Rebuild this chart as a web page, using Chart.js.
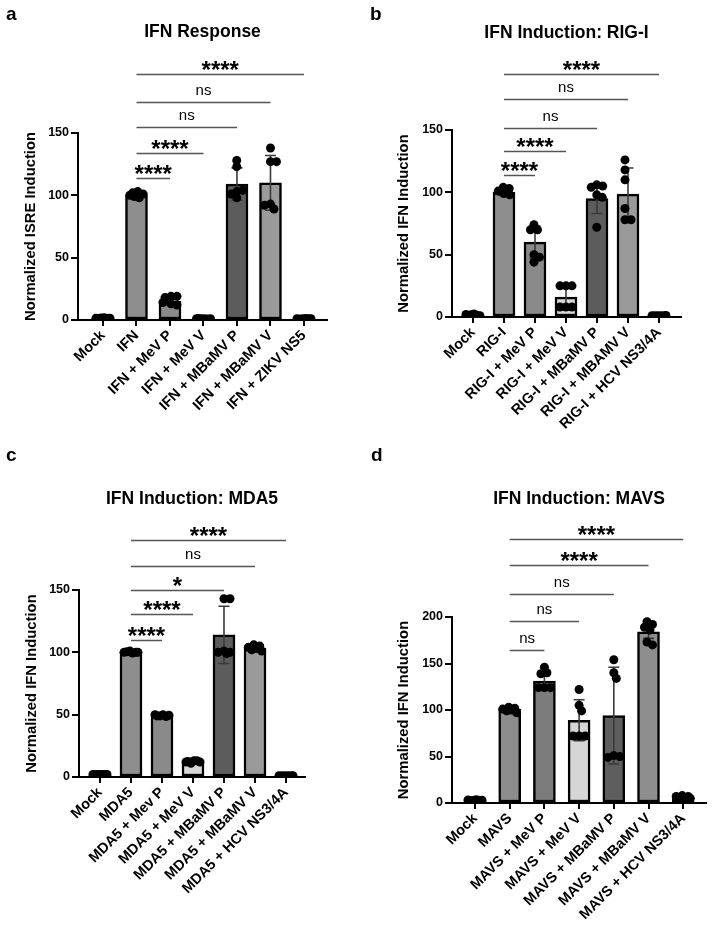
<!DOCTYPE html>
<html><head><meta charset="utf-8">
<script src="https://cdn.jsdelivr.net/npm/chart.js@4.4.0/dist/chart.umd.min.js"></script>
<style>
html,body{margin:0;padding:0;background:#fff;}
#wrap{position:relative;width:713px;height:926px;overflow:hidden;font-family:"Liberation Sans",Arial,sans-serif;}
canvas{position:absolute;}
.lt{position:absolute;font-weight:bold;font-size:19px;line-height:19px;color:#000;}
</style></head><body>
<div id="wrap">
<canvas id="ca" width="356" height="450" style="left:0;top:0"></canvas>
<canvas id="cb" width="357" height="450" style="left:356px;top:0"></canvas>
<canvas id="cc" width="356" height="476" style="left:0;top:450px"></canvas>
<canvas id="cd" width="357" height="476" style="left:356px;top:450px"></canvas>
<div class="lt" style="left:6px;top:4px">a</div>
<div class="lt" style="left:370px;top:4px">b</div>
<div class="lt" style="left:6px;top:445px">c</div>
<div class="lt" style="left:371px;top:445px">d</div>
</div>
<script>
// ---------- Panel a: IFN Response ----------
const catsA = ['Mock','IFN','IFN + MeV P','IFN + MeV V','IFN + MBaMV P','IFN + MBaMV V','IFN + ZIKV NS5'];
const meanA = [1.5, 100, 15, 1, 109, 110, 1];
const sdA   = [0.3, 1.8, 2.8, 0.2, 13, 22, 0.2];
const ptsA  = [
  [1.8,1.5,1.2,1.6,1.4,1.5],
  [103,101,99,100,98,102],
  [19,19,18,13,12,14],
  [1,1,1.2,0.8,1,1],
  [128,123,103,104,98,101],
  [138,127,127,93,89,92],
  [1,1,1,1.2,0.8,1]
];
const brToA = [2,3,4,5,6];
const brYA  = [114,134,155,175,197];
const brLbA = ['****','****','ns','ns','****'];

// ---------- Panel b: IFN Induction: RIG-I ----------
const catsB = ['Mock','RIG-I','RIG-I + MeV P','RIG-I + MeV V','RIG-I + MBaMV P','RIG-I + MBAMV V','RIG-I + HCV NS3/4A'];
const meanB = [1.5, 100, 60, 16, 95, 98.5, 1];
const sdB   = [1, 2.5, 13, 9, 12, 21, 0.3];
const ptsB  = [
  [2.5,1,0.5,2,1.5,1.8],
  [104,103,101,99,98,100],
  [74,70,70,50,48,44],
  [25,25,25,8,8,8],
  [106,105,104,98,96,72],
  [126,118,110,87,78,78],
  [1,1,1,1,1,1.3]
];
const brToB = [2,3,4,5,6];
const brYB  = [114,133,152,175,195];
const brLbB = ['****','****','ns','ns','****'];

// ---------- Panel c: IFN Induction: MDA5 ----------
const catsC = ['Mock','MDA5','MDA5 + Mev P','MDA5 + MeV V','MDA5 + MBaMV P','MDA5 + MBaMV V','MDA5 + HCV NS3/4A'];
const meanC = [2, 100, 49, 12, 114, 103.5, 1];
const sdC   = [0.3, 0.8, 1.2, 1.2, 23, 2, 0.2];
const ptsC  = [
  [2,2,2,2,2,2],
  [101,100,100,99.5,100.5,100],
  [50,49.5,49,48.5,49,50],
  [13,12,12.5,11,13,12],
  [143,143,101,100,100,99],
  [106,105,104,103,102,101],
  [1,1,1,1,1,1]
];
const brToC = [2,3,4,5,6];
const brYC  = [110,131,150,169,190];
const brLbC = ['****','****','*','ns','****'];

// ---------- Panel d: IFN Induction: MAVS ----------
const catsD = ['Mock','MAVS','MAVS + MeV P','MAVS + MeV V','MAVS + MBaMV P','MAVS + MBaMV V','MAVS + HCV NS3/4A'];
const meanD = [3, 101, 131, 89, 94, 184, 6];
const sdD   = [0.5, 2.5, 6, 22, 52, 7, 1.5];
const ptsD  = [
  [3.5,3,2.5,2.8,3,3.2],
  [103,102,101,100,99,97],
  [146,140,139,124,124,124],
  [122,105,99,72,72,72],
  [154,140,134,51,50,49],
  [195,192,189,186,173,170],
  [8,7,7,6,5,5]
];
const brToD = [2,3,4,5,6];
const brYD  = [164.5,195.7,224.7,256,284];
const brLbD = ['ns','ns','ns','****','****'];

const barColors = ['#ffffff','#8e8e8e','#8a8a8a','#d8d8d8','#5c5c5c','#9a9a9a','#d8d8d8'];
const barColorsD = ['#ffffff','#8c8c8c','#7c7c7c','#d6d6d6','#5e5e5e','#8e8e8e','#d8d8d8'];

Chart.defaults.font.family = '"Liberation Sans", Arial, Helvetica, sans-serif';
Chart.defaults.color = '#000';

const annot = {
  id: 'annot',
  afterDatasetDraw(chart, args, o) {
    if (args.index !== 0) return;
    const ctx = chart.ctx, x = chart.scales.x, y = chart.scales.y;
    ctx.save();
    ctx.strokeStyle = '#3a3a3a'; ctx.lineWidth = 1.6;
    o.means.forEach((m, i) => {
      const px = x.getPixelForValue(i);
      const hi = y.getPixelForValue(m + o.sd[i]);
      const lo = y.getPixelForValue(Math.max(0, m - o.sd[i]));
      ctx.beginPath();
      ctx.moveTo(px, hi); ctx.lineTo(px, lo);
      ctx.moveTo(px - 5.5, hi); ctx.lineTo(px + 5.5, hi);
      ctx.moveTo(px - 5.5, lo); ctx.lineTo(px + 5.5, lo);
      ctx.stroke();
    });
    ctx.restore();
  },
  afterDraw(chart, args, o) {
    const ctx = chart.ctx, x = chart.scales.x, y = chart.scales.y;
    ctx.save();
    ctx.strokeStyle = '#555'; ctx.lineWidth = 1.5;
    ctx.textAlign = 'center'; ctx.textBaseline = 'alphabetic'; ctx.fillStyle = '#000';
    o.brTo.forEach((t, k) => {
      const yy = Math.round(y.getPixelForValue(o.brY[k])) + 0.5;
      const x1 = x.getPixelForValue(o.brFrom), x2 = x.getPixelForValue(t);
      ctx.beginPath(); ctx.moveTo(x1, yy); ctx.lineTo(x2, yy); ctx.stroke();
      const lb = o.brLb[k], mid = (x1 + x2) / 2;
      if (lb.startsWith('*')) {
        ctx.font = 'bold 24px "Liberation Sans", Arial, sans-serif';
        ctx.fillText(lb, mid, yy + 3);
      } else {
        ctx.font = '15px "Liberation Sans", Arial, sans-serif';
        ctx.fillText(lb, mid, yy - 8);
      }
    });
    ctx.restore();
  }
};

function makeChart(id, p) {
  const cats = p.cats;
  const chart = new Chart(document.getElementById(id), {
    type: 'bar',
    data: {
      datasets: [
        {
          type: 'bar',
          data: p.means.map((m, i) => ({x: i, y: m})),
          backgroundColor: p.colors,
          borderColor: '#000',
          borderWidth: 2.5,
          borderSkipped: false,
          barThickness: 22,
          order: 2
        },
        {
          type: 'scatter',
          data: [],
          pointRadius: 4.5,
          pointHoverRadius: 4.5,
          pointBackgroundColor: '#000',
          pointBorderWidth: 0,
          order: 1
        }
      ]
    },
    options: {
      responsive: false,
      animation: false,
      layout: {padding: {left: 0, right: p.padR, top: 0, bottom: 0}},
      plugins: {
        legend: {display: false},
        tooltip: {enabled: false},
        title: {
          display: true, text: p.title, fullSize: false,
          font: {size: 17.5, weight: 'bold'}, color: '#000',
          padding: {top: p.tPadTop, bottom: p.tPadBot}
        },
        annot: {means: p.means, sd: p.sd, brFrom: 1, brTo: p.brTo, brY: p.brY, brLb: p.brLb}
      },
      scales: {
        x: {
          type: 'linear', min: p.xmin, max: p.xmax, offset: false,
          afterBuildTicks: s => { s.ticks = cats.map((c, i) => ({value: i})); },
          afterFit: s => { s.height = p.xH; },
          border: {display: true, color: '#000', width: 2},
          grid: {display: true, drawOnChartArea: false, drawTicks: true, tickLength: 6, color: '#000', lineWidth: 2, offset: false},
          ticks: {
            autoSkip: false, maxRotation: 45, minRotation: 45, padding: 1,
            font: {size: 14.5, weight: 'bold'}, color: '#000',
            callback: v => cats[v]
          }
        },
        y: {
          min: 0, max: p.ymax,
          afterFit: s => { s.width = p.yW; },
          border: {display: true, color: '#000', width: 2},
          grid: {display: true, drawOnChartArea: false, drawTicks: true, tickLength: 7, color: '#000', lineWidth: 2},
          ticks: {stepSize: 50, padding: 2, font: {size: 12.5, weight: 'bold'}, color: '#000'},
          title: {
            display: true, text: p.ytitle, color: '#000',
            font: {size: 14.8, weight: 'bold'},
            padding: {top: p.yTPad, bottom: 0}
          }
        }
      }
    },
    plugins: [annot]
  });
  // swarm placement of replicate points (horizontal spread only; values come from the data arrays)
  const xs = chart.scales.x, ys = chart.scales.y;
  const ppu = xs.getPixelForValue(1) - xs.getPixelForValue(0);
  const data = [];
  const MIND = 6, MAXOFF = 8;
  const cands = [0];
  for (let s = 0.5; s <= MAXOFF; s += 0.5) { cands.push(s, -s); }
  p.pts.forEach((arr, i) => {
    const placed = [];
    arr.forEach(v => {
      const py = ys.getPixelForValue(v);
      const md = c => placed.length ? Math.min(...placed.map(q => Math.hypot(q[0] - c, q[1] - py))) : Infinity;
      let off = cands.find(c => md(c) >= MIND);
      if (off === undefined) {
        let best = -1;
        cands.forEach(c => { const d = md(c); if (d > best + 1e-9) { best = d; off = c; } });
      }
      placed.push([off, py]);
    });
    const offs = placed.map(q => q[0]);
    const shift = (Math.max(...offs) + Math.min(...offs)) / 2;
    arr.forEach((v, j) => data.push({x: i + (offs[j] - shift) / ppu, y: v}));
  });
  chart.data.datasets[1].data = data;
  chart.update('none');
  return chart;
}

makeChart('ca', {cats: catsA, means: meanA, sd: sdA, pts: ptsA, brTo: brToA, brY: brYA, brLb: brLbA,
  colors: barColors, title: 'IFN Response', ytitle: 'Normalized ISRE Induction', ymax: 150,
  xmin: -0.746, xmax: 6.687, yW: 78, padR: 29, xH: 130, tPadTop: 21.5, tPadBot: 90.5, yTPad: 22.3});
makeChart('cb', {cats: catsB, means: meanB, sd: sdB, pts: ptsB, brTo: brToB, brY: brYB, brLb: brLbB,
  colors: barColors, title: 'IFN Induction: RIG-I', ytitle: 'Normalized IFN Induction', ymax: 150,
  xmin: -0.677, xmax: 6.71, yW: 96, padR: 32, xH: 133, tPadTop: 22.5, tPadBot: 86.5, yTPad: 38.8});
makeChart('cc', {cats: catsC, means: meanC, sd: sdC, pts: ptsC, brTo: brToC, brY: brYC, brLb: brLbC,
  colors: barColors, title: 'IFN Induction: MDA5', ytitle: 'Normalized IFN Induction', ymax: 150,
  xmin: -0.677, xmax: 6.613, yW: 79, padR: 51, xH: 149, tPadTop: 38.5, tPadBot: 80.5, yTPad: 23.3});
makeChart('cd', {cats: catsD, means: meanD, sd: sdD, pts: ptsD, brTo: brToD, brY: brYD, brLb: brLbD,
  colors: barColorsD, title: 'IFN Induction: MAVS', ytitle: 'Normalized IFN Induction', ymax: 200,
  xmin: -0.663, xmax: 6.657, yW: 96, padR: 7, xH: 123, tPadTop: 38.5, tPadBot: 107.5, yTPad: 38.8});
</script>
</body></html>
